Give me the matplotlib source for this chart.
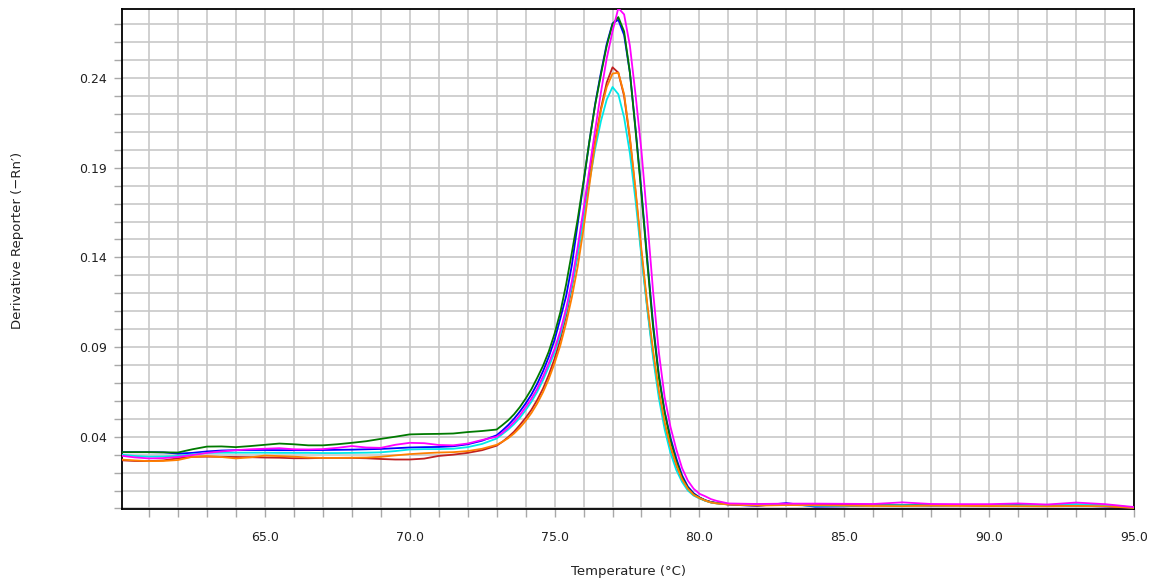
import matplotlib
matplotlib.use("Agg")
import matplotlib.pyplot as plt
from matplotlib.ticker import FixedLocator, FormatStrFormatter

plt.rcParams["font.family"] = ["DejaVu Sans"]

# temperature grid (deg C): coarse on the baseline, fine across the melt peak
temp = [60.0, 60.5, 61.0, 61.5, 62.0, 62.5, 63.0, 63.5, 64.0, 64.5, 65.0, 65.5, 66.0,
        66.5, 67.0, 67.5, 68.0, 68.5, 69.0, 69.5, 70.0, 70.5, 71.0, 71.5, 72.0, 72.5,
        73.0, 73.2, 73.4, 73.6, 73.8, 74.0, 74.2, 74.4, 74.6, 74.8, 75.0, 75.2, 75.4,
        75.6, 75.8, 76.0, 76.2, 76.4, 76.6, 76.8, 77.0, 77.2, 77.4, 77.6, 77.8, 78.0,
        78.2, 78.4, 78.6, 78.8, 79.0, 79.2, 79.4, 79.6, 79.8, 80.0, 80.2, 80.4, 80.6,
        81.0, 82.0, 83.0, 84.0, 85.0, 86.0, 87.0, 88.0, 89.0, 90.0, 91.0, 92.0, 93.0,
        94.0, 95.0]

blue = [0.0314, 0.0314, 0.0314, 0.0313, 0.0306, 0.0310, 0.0318, 0.0323, 0.0325, 0.0326,
        0.0326, 0.0325, 0.0325, 0.0325, 0.0326, 0.0327, 0.0328, 0.0330, 0.0332, 0.0336,
        0.0340, 0.0342, 0.0343, 0.0347, 0.0358, 0.0378,
        0.0408, 0.0435, 0.0465, 0.0500, 0.0540, 0.0585, 0.0635, 0.0695, 0.0765, 0.0845,
        0.0940, 0.1060, 0.1185, 0.1360, 0.1590, 0.1815, 0.2045, 0.2255, 0.2430, 0.2590,
        0.2705, 0.2725, 0.2640, 0.2430, 0.2110, 0.1765, 0.1390, 0.1030, 0.0745, 0.0540,
        0.0395, 0.0280, 0.0185, 0.0122, 0.0085, 0.0062, 0.0046, 0.0036, 0.0031,
        0.0022, 0.0014, 0.0030, 0.0010, 0.0012, 0.0018, 0.0020, 0.0017, 0.0018, 0.0016,
        0.0020, 0.0014, 0.0016, 0.0011, 0.0004]

green = [0.0314, 0.0314, 0.0314, 0.0313, 0.0312, 0.0330, 0.0345, 0.0346, 0.0342, 0.0348,
         0.0355, 0.0362, 0.0358, 0.0352, 0.0352, 0.0358, 0.0366, 0.0375, 0.0388, 0.0400,
         0.0413, 0.0415, 0.0416, 0.0418, 0.0426, 0.0432,
         0.0440, 0.0465, 0.0492, 0.0525, 0.0565, 0.0612, 0.0665, 0.0728, 0.0795, 0.0875,
         0.0975, 0.1095, 0.1250, 0.1430, 0.1615, 0.1825, 0.2045, 0.2250, 0.2420, 0.2580,
         0.2700, 0.2740, 0.2660, 0.2430, 0.2100, 0.1750, 0.1370, 0.1010, 0.0730, 0.0535,
         0.0380, 0.0265, 0.0175, 0.0115, 0.0080, 0.0060, 0.0045, 0.0035, 0.0030,
         0.0025, 0.0022, 0.0025, 0.0022, 0.0020, 0.0021, 0.0019, 0.0020, 0.0019, 0.0018,
         0.0017, 0.0017, 0.0021, 0.0016, 0.0006]

magenta = [0.0295, 0.0285, 0.0279, 0.0281, 0.0287, 0.0298, 0.0310, 0.0318, 0.0325, 0.0330,
           0.0333, 0.0336, 0.0330, 0.0329, 0.0331, 0.0338, 0.0348, 0.0340, 0.0338, 0.0355,
           0.0366, 0.0364, 0.0354, 0.0352, 0.0362, 0.0382,
           0.0400, 0.0422, 0.0450, 0.0482, 0.0520, 0.0565, 0.0612, 0.0668, 0.0735, 0.0810,
           0.0890, 0.0990, 0.1115, 0.1270, 0.1460, 0.1670, 0.1890, 0.2110, 0.2320, 0.2510,
           0.2660, 0.2790, 0.2755, 0.2580, 0.2300, 0.1990, 0.1610, 0.1210, 0.0870, 0.0620,
           0.0455, 0.0330, 0.0225, 0.0155, 0.0110, 0.0082, 0.0068, 0.0052, 0.0042,
           0.0028, 0.0025, 0.0027, 0.0027, 0.0026, 0.0025, 0.0034, 0.0025, 0.0024, 0.0024,
           0.0028, 0.0022, 0.0033, 0.0024, 0.0008]

cyan = [0.0301, 0.0293, 0.0289, 0.0290, 0.0293, 0.0302, 0.0310, 0.0311, 0.0311, 0.0311,
        0.0311, 0.0310, 0.0310, 0.0310, 0.0309, 0.0309, 0.0310, 0.0311, 0.0313, 0.0320,
        0.0329, 0.0331, 0.0331, 0.0333, 0.0342, 0.0360,
        0.0390, 0.0415, 0.0440, 0.0470, 0.0505, 0.0548, 0.0595, 0.0650, 0.0715, 0.0790,
        0.0870, 0.0970, 0.1095, 0.1245, 0.1420, 0.1615, 0.1820, 0.2005, 0.2160, 0.2280,
        0.2350, 0.2310, 0.2180, 0.1980, 0.1710, 0.1400, 0.1110, 0.0840, 0.0615, 0.0440,
        0.0310, 0.0215, 0.0148, 0.0100, 0.0072, 0.0056, 0.0043, 0.0033, 0.0028,
        0.0024, 0.0023, 0.0021, 0.0015, 0.0014, 0.0017, 0.0018, 0.0017, 0.0019, 0.0018,
        0.0017, 0.0020, 0.0024, 0.0015, 0.0005]

red = [0.0269, 0.0265, 0.0264, 0.0268, 0.0280, 0.0288, 0.0289, 0.0288, 0.0287, 0.0286,
       0.0284, 0.0283, 0.0280, 0.0280, 0.0282, 0.0282, 0.0282, 0.0280, 0.0276, 0.0273,
       0.0273, 0.0278, 0.0293, 0.0300, 0.0310, 0.0325,
       0.0350, 0.0372, 0.0398, 0.0428, 0.0465, 0.0505, 0.0550, 0.0605, 0.0668, 0.0745,
       0.0835, 0.0945, 0.1075, 0.1235, 0.1420, 0.1630, 0.1850, 0.2050, 0.2230, 0.2375,
       0.2460, 0.2430, 0.2300, 0.2060, 0.1755, 0.1420, 0.1120, 0.0860, 0.0640, 0.0470,
       0.0340, 0.0240, 0.0160, 0.0108, 0.0075, 0.0058, 0.0044, 0.0034, 0.0029,
       0.0023, 0.0020, 0.0022, 0.0020, 0.0018, 0.0019, 0.0017, 0.0016, 0.0017, 0.0015,
       0.0016, 0.0015, 0.0018, 0.0014, 0.0004]

orange = [0.0273, 0.0268, 0.0264, 0.0265, 0.0270, 0.0288, 0.0292, 0.0287, 0.0279, 0.0285,
          0.0295, 0.0292, 0.0289, 0.0284, 0.0282, 0.0282, 0.0283, 0.0284, 0.0288, 0.0296,
          0.0303, 0.0308, 0.0312, 0.0314, 0.0320, 0.0333,
          0.0355, 0.0372, 0.0392, 0.0418, 0.0450, 0.0488, 0.0532, 0.0585, 0.0648, 0.0722,
          0.0810, 0.0910, 0.1035, 0.1180, 0.1350, 0.1560, 0.1800, 0.2035, 0.2220, 0.2350,
          0.2425, 0.2430, 0.2310, 0.2070, 0.1770, 0.1440, 0.1140, 0.0880, 0.0655, 0.0480,
          0.0345, 0.0245, 0.0163, 0.0110, 0.0076, 0.0058, 0.0044, 0.0033, 0.0028,
          0.0022, 0.0016, 0.0019, 0.0018, 0.0016, 0.0014, 0.0013, 0.0016, 0.0015, 0.0014,
          0.0013, 0.0012, 0.0014, 0.0012, 0.0003]

x_major = [65.0, 70.0, 75.0, 80.0, 85.0, 90.0, 95.0]
y_major = [0.04, 0.09, 0.14, 0.19, 0.24]

series = [
    (blue, "#0000ff"),
    (green, "#007a00"),
    (red, "#c02020"),
    (cyan, "#00e8e8"),
    (orange, "#ff8000"),
    (magenta, "#ff00ff"),
]

fig = plt.figure(figsize=(11.63, 5.85), dpi=100)
ax = fig.add_axes([0.1049, 0.1299, 0.8702, 0.8547])

for values, color in series:
    ax.plot(temp, values, color=color, linewidth=1.3, zorder=3)

ax.set_xlim(60.07, 95.0)
ax.set_ylim(-0.0003, 0.2785)

ax.xaxis.set_major_locator(FixedLocator(x_major))
ax.xaxis.set_minor_locator(FixedLocator([float(t) for t in range(61, 95)]))
ax.yaxis.set_major_locator(FixedLocator(y_major))
ax.yaxis.set_minor_locator(FixedLocator([i / 100 for i in range(0, 28)]))
ax.xaxis.set_major_formatter(FormatStrFormatter("%.1f"))
ax.yaxis.set_major_formatter(FormatStrFormatter("%.2f"))

ax.grid(which="both", color="#c8c8c8", linewidth=1.2, zorder=0)
ax.set_axisbelow(True)
ax.tick_params(which="both", direction="out", length=6, width=1.0,
               color="#a8a8a8", labelsize=9, labelcolor="#222222")
ax.tick_params(axis="x", pad=10)
ax.tick_params(axis="y", pad=5)

for side in ["left", "bottom", "top", "right"]:
    ax.spines[side].set_color("black")
    ax.spines[side].set_linewidth(1.3)

ax.set_xlabel("Temperature (\u00b0C)", fontsize=9.5, color="#222222", va="center")
ax.xaxis.set_label_coords(0.5, -0.124)
ax.set_ylabel("Derivative Reporter (\u2212Rn\u2032)", fontsize=9.5, color="#222222",
              va="center")
ax.yaxis.set_label_coords(-0.103, 0.538)

fig.savefig("out.png", dpi=100)
